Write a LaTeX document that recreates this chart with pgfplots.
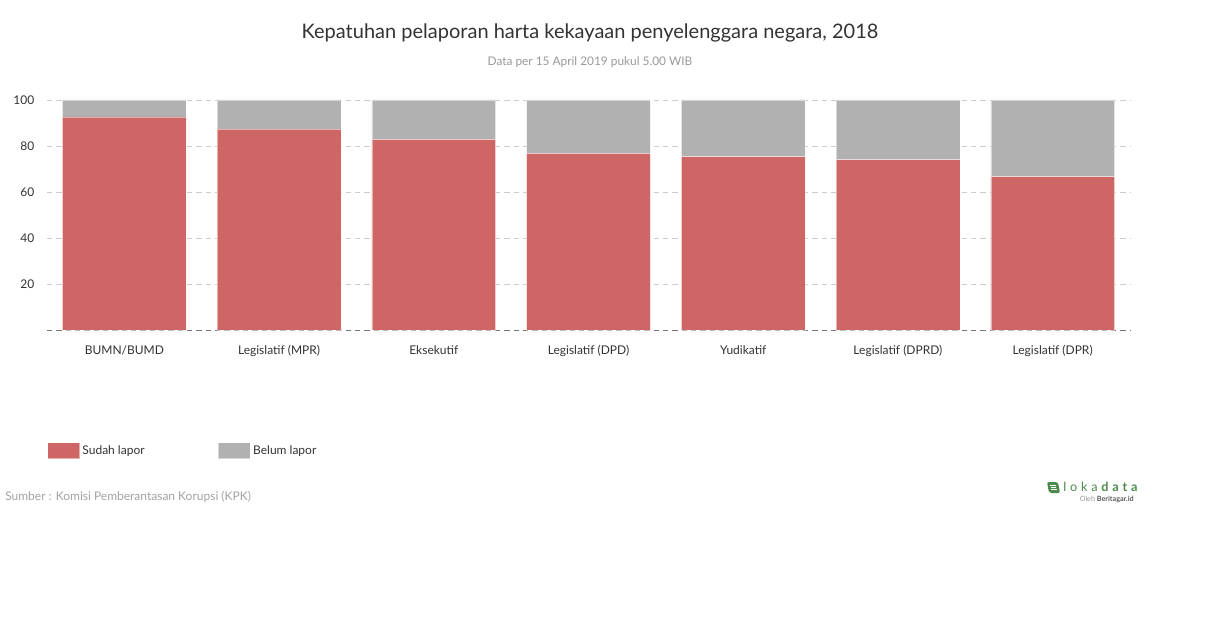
\documentclass[border=0pt]{standalone}
\usepackage{fontspec}
\setmainfont{Lato}
\newfontfamily\lokafont[LetterSpace=30]{Lato}
\usepackage{pgfplots}
\pgfplotsset{compat=1.18}

\definecolor{sudah}{HTML}{CD6664}
\definecolor{belum}{HTML}{B1B1B1}
\definecolor{txt}{HTML}{333333}
\definecolor{gridc}{HTML}{CCCCCC}
\definecolor{base}{HTML}{777777}
\definecolor{sub}{HTML}{999999}
\definecolor{loka}{HTML}{4E8A4E}

\pgfplotstableread{
x sudah belum
0 92.7 7.3
1 87.3 12.7
2 82.9 17.1
3 76.8 23.2
4 75.4 24.6
5 74.1 25.9
6 66.7 33.3
}\datatable

\begin{document}
\begin{tikzpicture}[x=0.75bp,y=0.75bp]
\path[use as bounding box, fill=white] (0,0) rectangle (1210,628);
\begin{axis}[
  at={(35.25bp,223.5bp)}, anchor=south west,
  scale only axis, width=812.25bp, height=172.5bp,
  ybar stacked, bar width=0.8,
  xmin=-0.5, xmax=6.5, ymin=0, ymax=100,
  xtick=data,
  xticklabels={BUMN/BUMD,Legislatif (MPR),Eksekutif,Legislatif (DPD),Yudikatif,Legislatif (DPRD),Legislatif (DPR)},
  typeset ticklabels with strut,
  ytick={20,40,60,80,100},
  extra y ticks={0},
  extra y tick labels={},
  extra y tick style={grid style={base, dashed, dash pattern=on 4bp off 3bp, line width=0.6bp}},
  ymajorgrids,
  grid style={gridc, dash pattern=on 4bp off 3bp, line width=0.6bp},
  axis line style={draw=none},
  major tick length=0pt,
  tick label style={font=\fontsize{9bp}{11bp}\selectfont, text=txt},
  yticklabel style={xshift=-6bp, yshift=-1.2bp},
  xticklabel style={yshift=-7.5bp},
  /pgf/number format/assume math mode=true,
  legend style={at={(0,-0.525)}, anchor=west, draw=none, fill=none, inner sep=0pt,
    font=\fontsize{9bp}{11bp}\selectfont, text=txt,
    /tikz/every even column/.append style={column sep=53bp}},
  legend columns=2,
  legend image code/.code={\fill[#1] (-0.5bp,-6bp) rectangle (23.5bp,6bp);},
]
\addplot[fill=sudah, draw=white, draw opacity=0.5] table[x=x, y=sudah] {\datatable};
\addlegendentry{Sudah lapor}
\addplot[fill=belum, draw=white, draw opacity=0.5] table[x=x, y=belum] {\datatable};
\addlegendentry{Belum lapor}
\end{axis}
\node[text=txt, font=\fontsize{15bp}{18bp}\selectfont] at (590,595) {Kepatuhan pelaporan harta kekayaan penyelenggara negara, 2018};
\node[text=sub, font=\fontsize{8.9bp}{10bp}\selectfont] at (590,566) {Data per 15 April 2019 pukul 5.00 WIB};
\node[anchor=west, inner sep=0pt, text=sub!90!white, font=\fontsize{9bp}{10bp}\selectfont] at (5,131) {Sumber : Komisi Pemberantasan Korupsi (KPK)};
% logo
\fill[loka, rounded corners=1.5] (1049,135) -- (1060,135) -- (1058,146) -- (1047,146) -- cycle;
\draw[white, line width=0.6] (1051,138.5) -- (1056.5,138.5) (1050.5,140.5) -- (1056,140.5) (1050,142.5) -- (1055.5,142.5);
\node[anchor=west, inner sep=0pt, text=loka, font=\lokafont\fontsize{9.5bp}{11bp}\selectfont] at (1063,141) {loka\textbf{data}};
\node[anchor=east, inner sep=0pt, text=sub, font=\fontsize{5.4bp}{6bp}\selectfont] at (1134,129) {Oleh \textcolor{txt!80!white}{\textbf{Beritagar.id}}};
\end{tikzpicture}
\end{document}
